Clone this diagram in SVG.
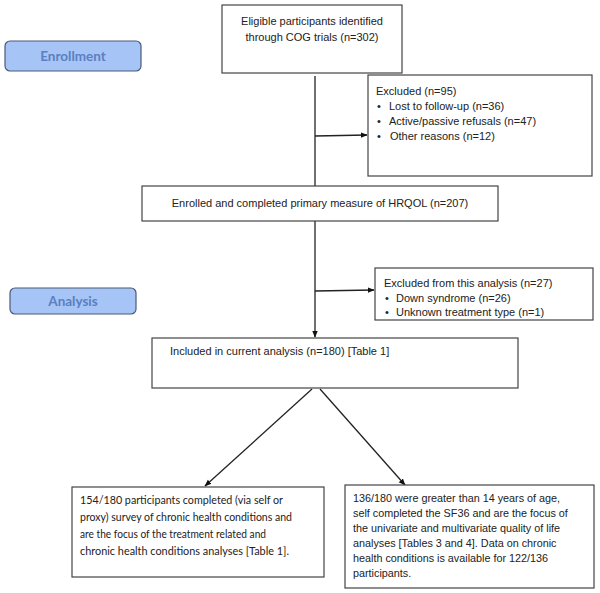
<svg xmlns="http://www.w3.org/2000/svg" width="600" height="593" viewBox="0 0 600 593">
<defs>
<style>
.box{fill:#fff;stroke:#444;stroke-width:1.2}
.btn{fill:#a6c4f6;stroke:#4a5a78;stroke-width:1.2}
.btnt{font-family:Lato,"Open Sans",sans-serif;font-weight:bold;font-size:13.5px;fill:#5b7fc0;text-anchor:middle}
.t{font-family:"Liberation Sans",Arial,sans-serif;font-size:11px;fill:#222}
.r{font-family:"Liberation Sans",Arial,sans-serif;font-size:10.8px;fill:#222}
.c{font-family:Lato,"Open Sans",sans-serif;font-size:11.5px;fill:#222}
.mid{text-anchor:middle}
.ln{stroke:#222;stroke-width:1.3;fill:none}
</style>
<marker id="ah" viewBox="0 0 10 10" refX="9" refY="5" markerWidth="7" markerHeight="7" orient="auto" markerUnits="userSpaceOnUse">
<path d="M0,1 L10,5 L0,9 z" fill="#111"/>
</marker>
</defs>
<rect width="600" height="593" fill="#fff"/>

<g id="enrollment-label">
<rect class="btn" x="5" y="41" width="136" height="30" rx="5"/>
<text class="btnt" x="73" y="61">Enrollment</text>
</g>
<g id="analysis-label">
<rect class="btn" x="10" y="288" width="126" height="26" rx="5"/>
<text class="btnt" x="73" y="306">Analysis</text>
</g>

<g id="connectors">
<line class="ln" x1="315" y1="76" x2="315" y2="186"/>
<line class="ln" x1="315" y1="136" x2="367" y2="135" marker-end="url(#ah)"/>
<line class="ln" x1="315" y1="221" x2="315" y2="337" marker-end="url(#ah)"/>
<line class="ln" x1="315" y1="291" x2="374" y2="290" marker-end="url(#ah)"/>
<line class="ln" x1="312" y1="389" x2="205" y2="486" marker-end="url(#ah)"/>
<line class="ln" x1="320" y1="389" x2="405" y2="485" marker-end="url(#ah)"/>
</g>

<g id="eligible">
<rect class="box" x="222" y="5" width="180" height="68"/>
<text class="t mid" x="312" y="25">Eligible participants identified</text>
<text class="t mid" x="312" y="41">through COG trials (n=302)</text>
</g>

<g id="excluded">
<rect class="box" x="368" y="75" width="224" height="101"/>
<text class="t" x="376" y="95">Excluded (n=95)</text>
<text class="t" x="377" y="110" font-size="8">•</text><text class="t" x="389" y="110">Lost to follow-up (n=36)</text>
<text class="t" x="377" y="125" font-size="8">•</text><text class="t" x="389" y="125">Active/passive refusals (n=47)</text>
<text class="t" x="377" y="140" font-size="8">•</text><text class="t" x="390" y="140">Other reasons (n=12)</text>
</g>

<g id="enrolled">
<rect class="box" x="142" y="186" width="356" height="35"/>
<text class="t mid" x="320" y="207">Enrolled and completed primary measure of HRQOL (n=207)</text>
</g>

<g id="excluded-analysis">
<rect class="box" x="375" y="268" width="218" height="52"/>
<text class="t" x="384" y="287">Excluded from this analysis (n=27)</text>
<text class="t" x="385" y="302" font-size="8">•</text><text class="t" x="396" y="302">Down syndrome (n=26)</text>
<text class="t" x="385" y="316" font-size="8">•</text><text class="t" x="396" y="316">Unknown treatment type (n=1)</text>
</g>

<g id="included">
<rect class="box" x="152" y="338" width="366" height="50"/>
<text class="t" x="170" y="355">Included in current analysis (n=180) [Table 1]</text>
</g>

<g id="chronic">
<rect class="box" x="72" y="487" width="252" height="90"/>
<text class="c" x="80" y="504" textLength="203" lengthAdjust="spacingAndGlyphs">154/180 participants completed (via self or</text>
<text class="c" x="80" y="521" textLength="212" lengthAdjust="spacingAndGlyphs">proxy) survey of chronic health conditions and</text>
<text class="c" x="80" y="538" textLength="186" lengthAdjust="spacingAndGlyphs">are the focus of the treatment related and</text>
<text class="c" x="80" y="555" textLength="209" lengthAdjust="spacingAndGlyphs">chronic health conditions analyses [Table 1].</text>
</g>

<g id="sf36">
<rect class="box" x="345" y="485" width="249" height="103"/>
<text class="r" x="353" y="502">136/180 were greater than 14 years of age,</text>
<text class="r" x="353" y="517">self completed the SF36 and are the focus of</text>
<text class="r" x="353" y="532">the univariate and multivariate quality of life</text>
<text class="r" x="353" y="547">analyses [Tables 3 and 4]. Data on chronic</text>
<text class="r" x="353" y="562">health conditions is available for 122/136</text>
<text class="r" x="353" y="577">participants.</text>
</g>
</svg>
